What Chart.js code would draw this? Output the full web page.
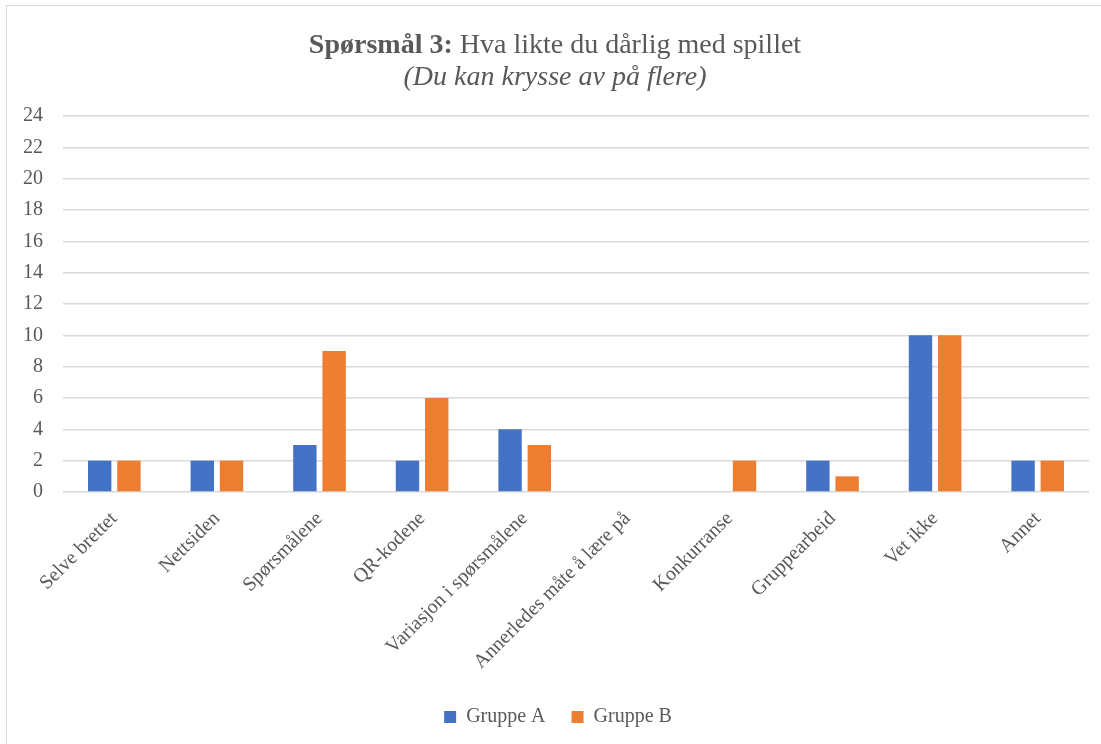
<!DOCTYPE html>
<html>
<head>
<meta charset="utf-8">
<script src="https://cdn.jsdelivr.net/npm/chart.js@4.4.0/dist/chart.umd.min.js"></script>
<style>
  html, body { margin: 0; padding: 0; background: #fff; overflow: hidden; }
  #wrap { position: absolute; left: 6px; top: 5px; width: 1095px; height: 739px;
          border-top: 1px solid #d9d9d9; border-left: 1px solid #d9d9d9; }
  canvas { display: block; }
</style>
</head>
<body>
<div id="wrap"><canvas id="chart" width="1094" height="738"></canvas></div>
<script>
var categories = ['Selve brettet', 'Nettsiden', 'Spørsmålene', 'QR-kodene',
  'Variasjon i spørsmålene', 'Annerledes måte å lære på', 'Konkurranse',
  'Gruppearbeid', 'Vet ikke', 'Annet'];
var gruppeA = [2, 2, 3, 2, 4, 0, 0, 2, 10, 2];
var gruppeB = [2, 2, 9, 6, 3, 0, 2, 1, 10, 2];
var titleBold = 'Spørsmål 3: ';
var titleRest = 'Hva likte du dårlig med spillet';
var subtitle = '(Du kan krysse av på flere)';

var serif = '"Liberation Serif", "Times New Roman", serif';
var textColor = '#595959';

// title with a bold lead-in, drawn by hand since Chart.js can't mix weights
var mixedTitle = {
  id: 'mixedTitle',
  afterLayout: function (chart) {
    // nudge legend right so it sits under the plot like the original
    chart.legend.left += 12;
    chart.legend.right += 12;
  },
  afterDraw: function (chart) {
    var ctx = chart.ctx;
    var cx = chart.width / 2 + 1;
    ctx.save();
    ctx.fillStyle = textColor;
    ctx.textBaseline = 'middle';
    ctx.textAlign = 'left';
    ctx.font = 'bold 28px ' + serif;
    var w1 = ctx.measureText(titleBold).width;
    ctx.font = '28px ' + serif;
    var w2 = ctx.measureText(titleRest).width;
    var x = cx - (w1 + w2) / 2;
    ctx.font = 'bold 28px ' + serif;
    ctx.fillText(titleBold, x, 40);
    ctx.font = '28px ' + serif;
    ctx.fillText(titleRest, x + w1, 40);
    ctx.font = 'italic 28px ' + serif;
    ctx.textAlign = 'center';
    ctx.fillText(subtitle, cx, 72);
    ctx.restore();
  }
};

new Chart(document.getElementById('chart'), {
  type: 'bar',
  data: {
    labels: categories,
    datasets: [
      { label: 'Gruppe A', data: gruppeA, backgroundColor: '#4472C4' },
      { label: 'Gruppe B', data: gruppeB, backgroundColor: '#ED7D31' }
    ]
  },
  options: {
    responsive: false,
    animation: false,
    categoryPercentage: 0.57,
    barPercentage: 0.8,
    layout: { padding: { top: 110, left: -4, right: 12, bottom: 7 } },
    plugins: {
      title: { display: false },
      tooltip: { enabled: false },
      legend: {
        position: 'bottom',
        labels: {
          boxWidth: 12, boxHeight: 12, padding: 26,
          color: textColor,
          font: { family: serif, size: 20 }
        }
      }
    },
    scales: {
      x: {
        grid: { display: false },
        border: { display: false },
        ticks: {
          color: textColor, minRotation: 45, maxRotation: 45, padding: 7,
          font: { family: serif, size: 20 }
        }
      },
      y: {
        min: 0, max: 24,
        grid: { color: '#d9d9d9', lineWidth: 1.5, drawTicks: false },
        border: { display: false },
        ticks: {
          stepSize: 2, color: textColor, padding: 20,
          font: { family: serif, size: 20 }
        }
      }
    }
  },
  plugins: [mixedTitle]
});
</script>
</body>
</html>
